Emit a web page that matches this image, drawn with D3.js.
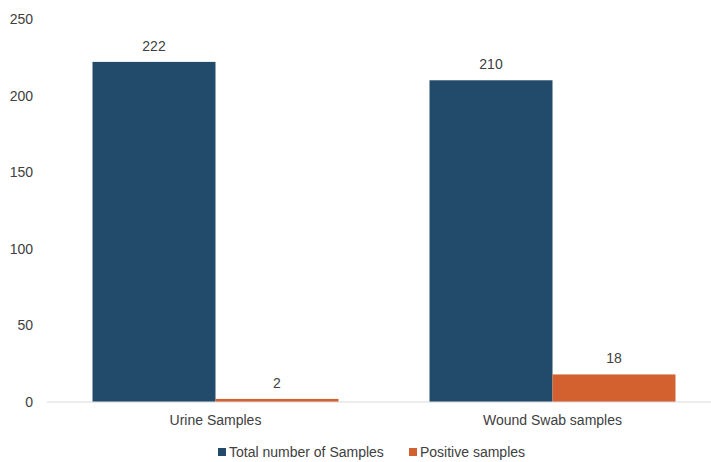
<!DOCTYPE html>
<html>
<head>
<meta charset="utf-8">
<script src="https://cdn.jsdelivr.net/npm/d3@7"></script>
<style>
  body { margin: 0; background: #fff; }
  text { font-family: "Liberation Sans", Arial, sans-serif; fill: #404040; }
</style>
</head>
<body>
<div id="chart"></div>
<script>
var categories = ["Urine Samples", "Wound Swab samples"];
var seriesNames = ["Total number of Samples", "Positive samples"];
var totalSamples = [222, 210];
var positiveSamples = [2, 18];
var yTicks = [0, 50, 100, 150, 200, 250];
var colors = ["#224a6b", "#d3602f"];

var w = 711, h = 462;

var svg = d3.select("#chart")
    .append("svg")
    .attr("width", w)
    .attr("height", h);

var data = categories.map(function(c, i) {
    return { cat: c, values: [totalSamples[i], positiveSamples[i]] };
});

// scales
var x0 = d3.scaleBand().domain(categories).range([47, 721]).padding(0);
var x1 = d3.scaleBand().domain(d3.range(seriesNames.length))
    .range([0, x0.bandwidth()]).paddingInner(0).paddingOuter(0.37);
var y = d3.scaleLinear().domain([0, 250]).range([402, 19]);

// y axis labels
svg.append("g").selectAll("text")
    .data(yTicks)
    .enter().append("text")
    .attr("x", 33)
    .attr("y", function(d) { return y(d); })
    .attr("dy", "0.35em")
    .attr("text-anchor", "end")
    .style("font-size", "14px")
    .text(function(d) { return d; });

// bars
var groups = svg.selectAll("g.grp")
    .data(data)
    .enter().append("g")
    .attr("class", "grp")
    .attr("transform", function(d) { return "translate(" + x0(d.cat) + ",0)"; });

groups.selectAll("rect")
    .data(function(d) { return d.values; })
    .enter().append("rect")
    .attr("x", function(d, i) { return x1(i); })
    .attr("y", function(d) { return y(d); })
    .attr("width", x1.bandwidth())
    .attr("height", function(d) { return y(0) - y(d); })
    .style("fill", function(d, i) { return colors[i]; });

groups.selectAll("text")
    .data(function(d) { return d.values; })
    .enter().append("text")
    .attr("x", function(d, i) { return x1(i) + x1.bandwidth() / 2; })
    .attr("y", function(d) { return y(d) - 11; })
    .attr("text-anchor", "middle")
    .style("font-size", "14px")
    .text(function(d) { return d; });

// baseline
svg.append("line")
    .attr("x1", 47).attr("x2", 721)
    .attr("y1", y(0)).attr("y2", y(0))
    .style("stroke", "#d9d9d9")
    .style("stroke-width", 1.2);

// category labels
svg.append("g").selectAll("text")
    .data(categories)
    .enter().append("text")
    .attr("x", function(d) { return x0(d) + x0.bandwidth() / 2; })
    .attr("y", 420)
    .attr("dy", "0.35em")
    .attr("text-anchor", "middle")
    .style("font-size", "14px")
    .text(function(d) { return d; });

// legend
var legendX = [218, 409];
var legend = svg.append("g").selectAll("g")
    .data(seriesNames)
    .enter().append("g")
    .attr("transform", function(d, i) { return "translate(" + legendX[i] + ",452)"; });

legend.append("rect")
    .attr("x", 0).attr("y", -4)
    .attr("width", 8).attr("height", 8)
    .style("fill", function(d, i) { return colors[i]; });

legend.append("text")
    .attr("x", 11)
    .attr("dy", "0.35em")
    .style("font-size", "14px")
    .text(function(d) { return d; });
</script>
</body>
</html>
